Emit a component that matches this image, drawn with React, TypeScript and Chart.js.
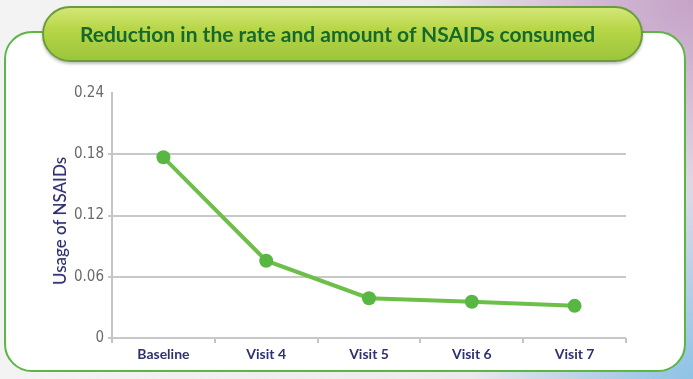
import React, { useEffect, useRef } from "react";
import { Chart, registerables } from "chart.js";

Chart.register(...registerables);

const categories = ["Baseline", "Visit 4", "Visit 5", "Visit 6", "Visit 7"];
const usageValues = [0.177, 0.0757, 0.039, 0.0355, 0.0315];
const yTicks = [0, 0.06, 0.12, 0.18, 0.24];
const yTickLabels = ["0", "0.06", "0.12", "0.18", "0.24"];
const chartTitle = "Reduction in the rate and amount of NSAIDs consumed";
const yAxisTitle = "Usage of NSAIDs";

export default function App() {
  const canvasRef = useRef<HTMLCanvasElement | null>(null);

  useEffect(() => {
    const canvas = canvasRef.current;
    if (!canvas) return;
    const chart = new Chart(canvas, {
      type: "line",
      data: {
        labels: categories,
        datasets: [
          {
            data: usageValues,
            borderColor: "#6cc04a",
            borderWidth: 4,
            pointRadius: 7,
            pointBackgroundColor: "#58b743",
            pointBorderColor: "#58b743",
            pointBorderWidth: 0,
            tension: 0,
          },
        ],
      },
      options: {
        animation: false,
        responsive: false,
        maintainAspectRatio: false,
        layout: { padding: { left: 46, right: 67, top: 93, bottom: 9 } },
        plugins: { legend: { display: false }, tooltip: { enabled: false } },
        scales: {
          x: {
            type: "category",
            offset: true,
            afterFit: (s: any) => {
              s.height = 32;
            },
            grid: {
              offset: true,
              drawOnChartArea: false,
              drawTicks: true,
              tickLength: 5,
              color: "#c4c4c4",
              lineWidth: 2,
            },
            border: { display: false },
            ticks: {
              padding: 3,
              color: "#2e3172",
              font: { family: "Lato, 'Open Sans', sans-serif", size: 14, weight: "bold" },
            },
          },
          y: {
            min: 0,
            max: 0.24,
            afterFit: (s: any) => {
              s.width = 66;
            },
            afterBuildTicks: (s: any) => {
              s.ticks = yTicks.map((v) => ({ value: v }));
            },
            grid: {
              drawTicks: true,
              tickLength: 4,
              color: (ctx: any) => (ctx.tick && ctx.tick.value >= 0.24 ? "rgba(0,0,0,0)" : "#c8c8c8"),
              lineWidth: 2,
            },
            border: { display: true, color: "#c4c4c4", width: 2 },
            ticks: {
              padding: 4,
              color: "#6a6a6a",
              font: { family: "'Liberation Sans Narrow', 'DejaVu Sans Condensed', sans-serif", size: 15 },
              callback: (v: any) => {
                const i = yTicks.indexOf(Number(v));
                return i >= 0 ? yTickLabels[i] : "";
              },
            },
          },
        },
      },
    });
    return () => chart.destroy();
  }, []);

  return (
    <div
      style={{
        position: "fixed",
        left: 0,
        top: 0,
        width: 693,
        height: 379,
        overflow: "hidden",
        background:
          "radial-gradient(ellipse 260px 200px at 693px 0px, #c6a2c8 0%, rgba(198,162,200,0) 100%), radial-gradient(ellipse 220px 200px at 693px 379px, #8fc3e6 0%, rgba(143,195,230,0) 100%), linear-gradient(90deg, #f3f3f3 0%, #ececec 60%, #e2dbe6 100%)",
      }}
    >
      <div
        style={{
          position: "absolute",
          left: 4,
          top: 31,
          width: 678,
          height: 337,
          border: "2.5px solid #5cb544",
          borderRadius: 28,
          background: "#ffffff",
        }}
      />
      <canvas
        ref={canvasRef}
        width={693}
        height={379}
        style={{ position: "absolute", left: 0, top: 0, width: 693, height: 379 }}
      />
      <div
        style={{
          position: "absolute",
          left: 60,
          top: 221,
          transform: "translate(-50%, -50%) rotate(-90deg)",
          color: "#2b2d6e",
          fontFamily: "Lato, 'Open Sans', sans-serif",
          fontWeight: 500,
          fontSize: 17,
          whiteSpace: "nowrap",
          lineHeight: "20px",
        }}
      >
        {yAxisTitle}
      </div>
      <div
        style={{
          position: "absolute",
          left: 42,
          top: 6,
          width: 597,
          height: 52,
          borderRadius: 28,
          border: "2px solid #6a9c3e",
          background: "linear-gradient(180deg, #d3e777 0%, #b8d648 40%, #9cc53b 100%)",
          boxShadow: "0 2px 3px rgba(0,0,0,0.25)",
          boxSizing: "content-box",
          color: "#156a2b",
          fontFamily: "Lato, 'Open Sans', sans-serif",
          fontWeight: 700,
          fontSize: 21,
          whiteSpace: "nowrap",
          lineHeight: "52px",
          textAlign: "center",
        }}
      >
        <span style={{ position: "relative", left: -5 }}>{chartTitle}</span>
      </div>
    </div>
  );
}
